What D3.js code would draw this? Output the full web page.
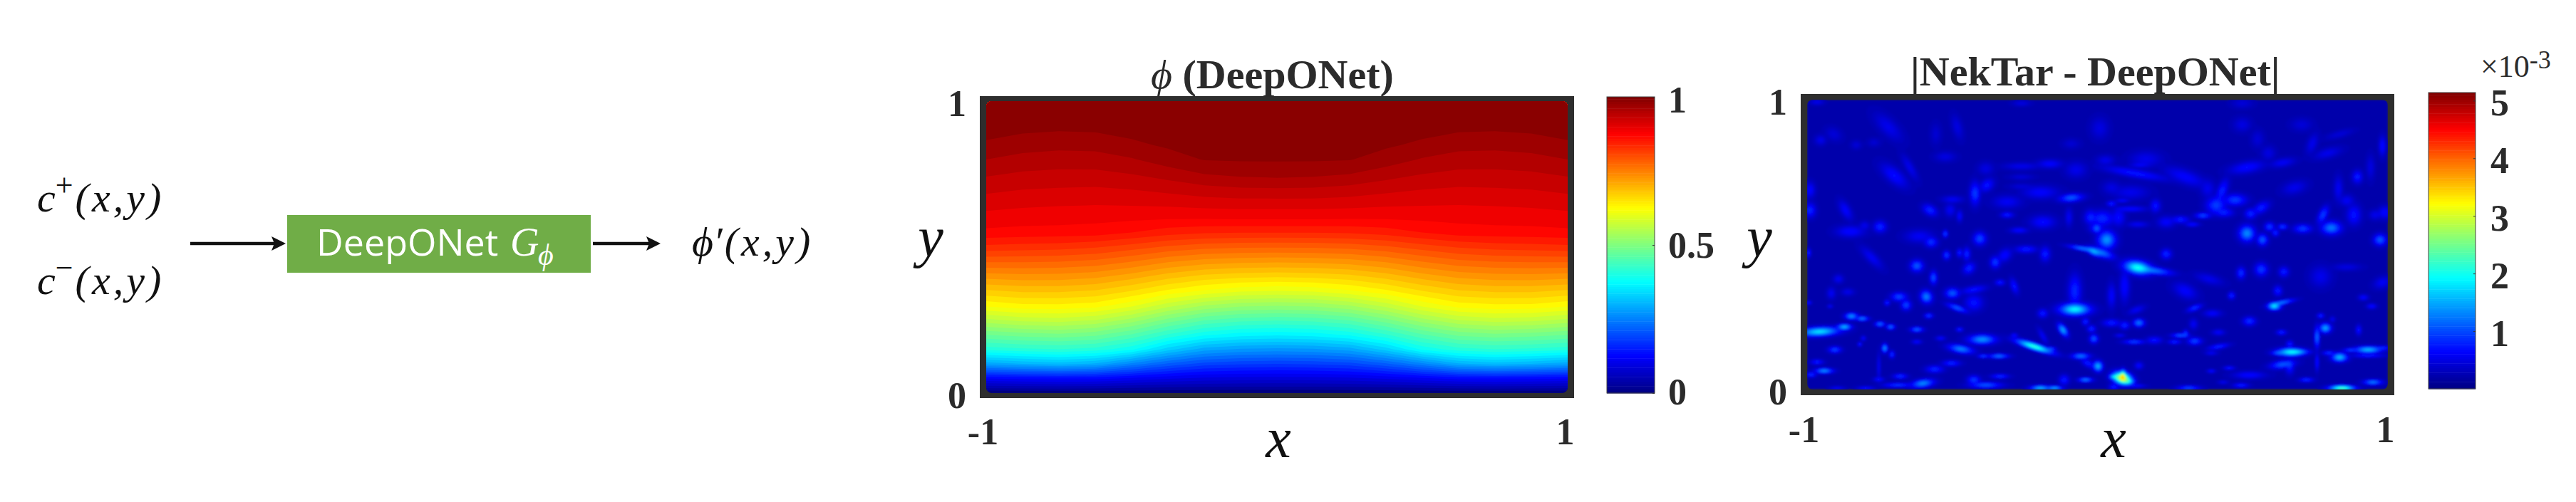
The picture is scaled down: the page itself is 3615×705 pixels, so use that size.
<!DOCTYPE html>
<html>
<head>
<meta charset="utf-8">
<script src="https://cdn.jsdelivr.net/npm/d3@7"></script>
<style>
  html, body { margin: 0; background: #fff; }
  svg { display: block; }
  .tick text, .lab { font-family: "Liberation Serif", serif; font-weight: bold; fill: #2b2b2b; }
  .math { font-family: "Liberation Serif", serif; font-style: italic; fill: #111; }
</style>
</head>
<body>
<script>
// phi (DeepONet): rows go y = 0 .. 1 in steps of 0.05,
// columns go x = -1 .. 0 in steps of 0.125 (right half mirrors the left)
const phiRows = [
  [0, 0, 0, 0, 0, 0, 0, 0, 0],
  [.120, .126, .130, .127, .115, .103, .094, .091, .090],
  [.287, .300, .309, .296, .254, .216, .191, .183, .180],
  [.407, .415, .420, .412, .385, .329, .290, .277, .273],
  [.481, .490, .495, .486, .458, .418, .385, .370, .365],
  [.554, .567, .570, .560, .532, .493, .462, .448, .443],
  [.625, .635, .636, .630, .605, .568, .540, .526, .522],
  [.677, .684, .684, .678, .660, .636, .617, .604, .600],
  [.729, .733, .732, .726, .710, .689, .674, .667, .664],
  [.782, .782, .780, .774, .760, .742, .730, .725, .723],
  [.834, .831, .828, .822, .810, .796, .787, .783, .782],
  [.875, .873, .872, .870, .860, .849, .843, .841, .841],
  [.892, .889, .888, .886, .885, .883, .883, .884, .884],
  [.909, .905, .903, .902, .903, .905, .909, .911, .911],
  [.926, .921, .919, .918, .921, .927, .934, .938, .939],
  [.943, .937, .935, .935, .940, .949, .960, .965, .967],
  [.960, .953, .950, .951, .958, .971, .981, .982, .982],
  [.977, .969, .966, .967, .976, .983, .986, .986, .987],
  [.986, .983, .981, .982, .986, .989, .990, .991, .991],
  [.993, .991, .990, .991, .993, .994, .995, .995, .996],
  [1, 1, 1, 1, 1, 1, 1, 1, 1]
]

// |NekTar - DeepONet| hot spots, read per quadrant of the plot:
// [column, row, value (x 10^-3), half width, half height, tilt in degrees]
// column runs 0..1260 and row 0..630 across a quadrant
const errTopLeft = [
  [360,130,.55,50,22,45],[75,185,.55,16,14],[130,160,.45,25,18,30],[385,335,.7,45,20,40],[450,300,.55,40,12,60],
  [225,205,.45,15,12],[300,195,.42,18,12],[30,395,.7,14,22],[30,480,.85,16,20],[180,480,.65,14,30,-30],
  [325,550,.85,18,16],[200,570,.7,40,16],[260,545,.55,15,12],[535,480,.85,22,14,30],[620,480,.6,15,18],
  [725,410,.95,14,32],[775,375,.75,22,16,-40],[770,305,.5,22,18],[650,130,.5,14,35,-15],[560,160,.42,15,30],
  [600,255,.5,30,14],[920,295,.55,50,10],[1040,285,.65,35,12],[1000,405,.65,50,18],[920,340,.45,35,8],
  [920,380,.45,35,8],[1130,428,1.1,34,11,-5],[860,445,.6,40,18],[860,500,.8,18,8],[1010,530,.7,35,18],
  [910,565,.7,25,8],[1210,510,.8,16,20],[1235,555,.8,20,14],[1150,310,.55,30,22],[1130,200,.42,25,14],
  [745,600,1,18,18,-40],[600,580,1,7,10],[540,615,.9,18,14],[490,590,.6,40,18],[660,505,.7,8,16],
  [630,435,.6,30,10],[1120,510,.6,10,25],[60,25,.55,20,8],[920,30,.5,25,8]
]
const errTopRight = [
  [20,135,.5,25,30],[215,265,.55,45,22],[45,270,.55,25,14],[190,290,.6,30,7],[170,325,.75,90,12,10],
  [380,340,.65,60,20,20],[640,300,.7,50,16,-10],[790,280,.6,35,12,-10],[620,120,.5,25,20],[685,180,.45,18,25],
  [915,200,.55,14,30,20],[1210,210,.7,10,28],[980,240,.55,40,14,-15],[1105,340,.8,14,18],[1160,300,.5,12,35],
  [840,385,.55,35,18,-15],[535,400,.8,14,35,20],[590,437,.95,32,16],[510,460,.95,28,24],[545,490,.8,25,12],
  [700,470,.8,25,14,-30],[655,495,.85,16,14],[475,390,.55,20,25],[1025,390,.6,12,35],[1060,440,.6,20,16],
  [1090,500,.75,20,28],[1220,490,.7,18,18],[960,500,.95,12,26,25],[995,555,1.25,28,18],[875,558,.95,25,12],
  [790,550,.95,14,8],[735,550,.95,14,12],[760,575,.85,10,10],[640,578,1.35,22,22],[705,605,1.1,15,16],
  [1200,605,1.1,18,16],[50,605,1.4,25,25],[30,515,.85,35,22],[100,510,.7,18,25],[8,558,.95,10,12],
  [70,453,.8,14,8],[115,440,.7,20,5],[150,475,.7,45,8],[255,462,.75,14,18],[455,503,1,22,8],
  [360,520,.8,25,10],[410,540,.75,20,6],[300,530,.65,25,16],[180,540,.6,30,8],[150,405,.55,50,20],
  [70,385,.5,25,18],[1180,500,.55,18,14],[1030,160,.45,40,10,-15],[870,120,.45,30,18],[620,30,.45,30,14],
  [730,240,.5,20,20]
]
const errBottomLeft = [
  [70,362,1.8,55,12,-3],[175,342,1.6,20,8],[205,297,1.4,18,9],[250,307,1.3,18,6],[325,330,1.2,14,7],
  [370,342,1.2,12,7],[480,353,1.15,18,7],[345,432,1.4,8,12],[375,458,.9,8,10],[135,438,1,18,9],
  [90,527,1.4,25,7],[60,490,.8,18,7],[35,543,.9,14,7],[520,215,1.3,16,18,-30],[630,200,1.1,20,14],
  [405,215,1,22,12],[435,250,1,14,14],[355,240,.85,8,8],[480,85,1.1,18,16],[550,135,1.05,10,18],
  [605,40,.95,10,12],[660,30,.8,8,12],[690,35,.85,10,18],[700,95,.85,18,14,-40],[810,70,.95,14,16],
  [850,40,.7,22,16,-40],[1020,35,.8,14,20],[1180,12,1.3,40,6,10],[1225,25,1.4,22,10,25],[940,15,.8,30,10],
  [290,50,.6,40,14,45],[1145,268,1.9,42,16],[1145,190,.85,18,45],[1095,355,1.5,10,20,-35],[1190,320,.85,10,10],
  [1215,350,.85,12,10],[1225,392,1.1,12,12],[975,425,2.2,52,9,18],[1045,435,1,14,6],[755,395,1.4,38,13],
  [665,435,1.3,35,11,10],[650,262,1.1,30,8,20],[530,295,.95,12,7],[825,465,1.25,28,6],[760,465,1,16,5],
  [1170,465,1.25,26,8],[1240,505,1.2,14,14],[1200,495,.8,20,10,30],[1190,565,1.3,20,6],[1000,600,1.6,28,7],
  [1060,600,1.5,22,6],[505,580,1.35,32,11,-8],[400,587,.95,40,6],[410,550,.9,20,7],[320,563,.75,15,6],
  [265,600,.75,25,5],[145,600,.65,22,5],[770,587,1.1,45,8],[720,565,.95,18,12],[830,550,.9,25,6],
  [1100,565,.8,14,14],[555,520,.85,25,10],[625,495,.85,25,8],[660,353,.85,10,6],[480,405,.7,14,6],
  [580,390,.7,14,6],[890,378,.75,10,6],[1010,285,.8,14,12],[25,240,.8,8,5],[115,255,.65,8,5],
  [150,140,.6,14,12],[120,200,.6,12,16],[190,195,.55,18,10],[720,240,.75,25,22],[720,185,.75,35,10,-10],
  [830,155,.8,14,8],[890,170,.75,10,22,-20],[25,30,.85,6,12],[320,510,.6,5,40],[240,415,.85,6,6],
  [255,390,.7,7,7],[1010,380,.6,8,25,-30]
]
const errBottomRight = [
  [180,92,2,38,18,10],[250,105,1.2,50,10,8],[300,35,.85,15,14],[30,30,1.2,35,12,20],[125,170,.7,14,45],
  [70,210,.65,12,35],[700,100,.95,18,18],[615,115,.9,12,16],[795,110,.8,14,14],[770,190,.8,12,14],
  [575,210,.85,10,10],[380,190,.65,35,20,25],[480,140,.55,40,14,15],[755,255,1.8,18,10],[785,240,1.3,35,6,-12],
  [420,262,.9,22,8,-20],[495,285,.65,25,10],[650,318,.9,18,12],[185,325,1.25,16,11],[125,335,.85,14,11],
  [70,325,.8,25,10],[175,270,.6,25,10,-20],[415,330,.6,12,15],[360,378,1.1,25,6],[382,370,.9,8,10],
  [165,405,1,30,6],[250,398,.75,22,10],[335,405,.85,18,6],[420,402,1,20,10],[105,378,.65,15,5],
  [520,365,.65,18,8],[520,425,.85,30,7,-10],[490,452,.6,18,6],[15,510,1.2,12,14],[115,558,3.1,26,16,15],
  [118,548,2.4,8,16],[80,552,1.6,14,6],[140,572,1.6,18,9],[175,590,.8,25,4],[80,595,.8,14,10],
  [185,505,.7,12,10],[395,600,1,32,7],[615,588,.85,22,6],[565,515,.8,16,5],[490,528,.75,12,5],
  [650,545,.7,45,10],[540,575,.6,15,5],[825,448,1.9,38,11],[770,452,1.1,20,5],[860,447,1.2,30,6],
  [970,347,1.5,16,13],[950,295,.85,10,7],[935,385,1.2,7,30],[935,490,.8,5,25],[785,365,.85,14,7],
  [820,415,.8,10,10],[1030,470,1.6,22,12],[1150,438,1.6,38,9],[1075,440,1,20,5],[1215,430,.85,25,5],
  [1150,463,.85,45,5],[985,452,.9,18,6],[790,500,1.1,35,11,-8],[820,510,.8,12,20],[890,565,.9,20,6],
  [1170,575,1.3,26,7],[1040,600,2.4,35,7],[1110,355,.75,8,14],[1000,310,.6,8,8],[1165,255,.75,14,7],
  [1130,218,.7,14,8],[950,130,.55,30,30],[1210,155,.6,25,16,-20],[1060,90,.5,40,10]
]
const errFloor = .22

const xTicks = [-1, 1]
const yTicks = [0, 1]
const phiBarTicks = [0, .5, 1]
const errBarTicks = [1, 2, 3, 4, 5]
const phiBarMax = 1
const errBarMax = 5.14

const width = 3615, height = 705

const jet = d3.scaleLinear()
  .domain([0, .125, .375, .625, .875, 1])
  .range(['#000080', '#0000ff', '#00ffff', '#ffff00', '#ff0000', '#800000'])
  .clamp(true)

const svg = d3.select('body').append('svg')
  .attr('width', width)
  .attr('height', height)
  .attr('viewBox', `0 0 ${width} ${height}`)

const defs = svg.append('defs')
defs.append('filter').attr('id', 'soft')
  .attr('x', 0).attr('y', 0).attr('width', 1).attr('height', 1)
  .append('feGaussianBlur').attr('stdDeviation', 1.6).attr('edgeMode', 'duplicate')

function panel(opt) {
  const x = d3.scaleLinear().domain([-1, 1]).range(opt.xRange)
  const y = d3.scaleLinear().domain([0, 1]).range(opt.yRange)
  const pad = opt.frame

  // dark frame first, the field sits on top with rounded corners
  svg.append('rect')
    .attr('x', opt.xRange[0] - pad[0])
    .attr('y', opt.yRange[1] - pad[1])
    .attr('width', opt.xRange[1] - opt.xRange[0] + pad[0] * 2)
    .attr('height', opt.yRange[0] - opt.yRange[1] + pad[1] * 2)
    .attr('fill', '#2e2e2e')

  defs.append('clipPath').attr('id', opt.id)
    .append('rect')
    .attr('x', opt.xRange[0])
    .attr('y', opt.yRange[1])
    .attr('width', opt.xRange[1] - opt.xRange[0])
    .attr('height', opt.yRange[0] - opt.yRange[1])
    .attr('rx', 8)

  const clip = svg.append('g').attr('clip-path', `url(#${opt.id})`)
  const g = clip.append('g')
  if (opt.soft) g.attr('filter', 'url(#soft)')

  g.append('rect')
    .attr('x', opt.xRange[0])
    .attr('y', opt.yRange[1])
    .attr('width', opt.xRange[1] - opt.xRange[0])
    .attr('height', opt.yRange[0] - opt.yRange[1])
    .attr('fill', jet(opt.floor / opt.max))

  const gridX = d3.scaleLinear().domain([.5, opt.nx - .5]).range([-1, 1])
  const gridY = d3.scaleLinear().domain([.5, opt.ny - .5]).range([0, 1])
  const path = d3.geoPath(d3.geoTransform({
    point(a, b) { this.stream.point(x(gridX(a)), y(gridY(b))) }
  }))

  const contours = d3.contours()
    .size([opt.nx, opt.ny])
    .thresholds(opt.thresholds)(opt.values)

  g.selectAll('path')
    .data(contours)
    .join('path')
    .attr('d', path)
    .attr('fill', d => jet((d.value + opt.bandStep / 2) / opt.max))

  // axes
  const xAxis = svg.append('g')
    .attr('transform', `translate(0,${opt.yRange[0]})`)
    .call(d3.axisBottom(x).tickValues(xTicks).tickSize(0).tickFormat(d => String(d)))
  xAxis.select('.domain').remove()
  xAxis.selectAll('text')
    .attr('y', opt.xLabelY - opt.yRange[0])
    .attr('dy', 0)
    .attr('dx', d => d < 0 ? -5 : -4)
    .style('font-size', '52px')

  const yAxis = svg.append('g')
    .attr('transform', `translate(${opt.xRange[0]},0)`)
    .call(d3.axisLeft(y).tickValues(yTicks).tickSize(0).tickFormat(d => String(d)))
  yAxis.select('.domain').remove()
  yAxis.selectAll('text')
    .attr('x', -28)
    .attr('dy', 20)
    .style('font-size', '52px')

  // colour bar
  const bar = d3.scaleLinear().domain([0, opt.barMax]).range(opt.barY)
  const bands = d3.range(128).map(i => i / 128 * opt.barMax)
  const barG = svg.append('g')
  barG.selectAll('rect')
    .data(bands)
    .join('rect')
    .attr('x', opt.barX[0])
    .attr('width', opt.barX[1] - opt.barX[0])
    .attr('y', d => bar(d + opt.barMax / 128))
    .attr('height', d => bar(d) - bar(d + opt.barMax / 128) + .5)
    .attr('fill', d => jet((d + opt.barMax / 256) / opt.barMax))
  barG.append('rect')
    .attr('x', opt.barX[0]).attr('y', opt.barY[1])
    .attr('width', opt.barX[1] - opt.barX[0])
    .attr('height', opt.barY[0] - opt.barY[1])
    .attr('fill', 'none')
    .attr('stroke', '#444')
    .attr('stroke-width', 1)

  const barAxis = svg.append('g')
    .attr('transform', `translate(${opt.barX[1]},0)`)
    .call(d3.axisRight(bar).tickValues(opt.barTicks).tickSize(-3).tickPadding(opt.barPad).tickFormat(d => String(d)))
  barAxis.select('.domain').remove()
  barAxis.selectAll('line').attr('stroke', '#333')
  barAxis.selectAll('text')
    .attr('dy', opt.barDy)
    .style('font-size', '52px')

  // title and axis letters
  svg.append('text').attr('class', 'lab')
    .attr('x', opt.titleX).attr('y', opt.titleY)
    .style('font-size', '58px')
    .html(opt.title)
  svg.append('text').attr('class', 'math')
    .attr('x', opt.xLetter[0]).attr('y', opt.xLetter[1])
    .attr('text-anchor', 'middle')
    .style('font-size', '80px')
    .text('x')
  svg.append('text').attr('class', 'math')
    .attr('x', opt.yLetter[0]).attr('y', opt.yLetter[1])
    .attr('text-anchor', 'middle')
    .style('font-size', '80px')
    .text('y')
}

// ---- phi panel
const phiFull = phiRows.flatMap(r => r.concat(r.slice(0, -1).reverse()))

panel({
  id: 'clipPhi',
  xRange: [1384, 2200], yRange: [552, 142], frame: [9, 7],
  values: phiFull, nx: 17, ny: 21,
  thresholds: d3.range(.02, 1, .02), bandStep: .02,
  floor: 0, max: phiBarMax,
  xLabelY: 624,
  barX: [2255, 2322], barY: [552, 136], barMax: phiBarMax, barTicks: phiBarTicks, barPad: 19,
  barDy: d => d === 1 ? 21 : d === 0 ? 15 : 17,
  title: '<tspan font-style="italic" font-weight="normal">ϕ</tspan> (DeepONet)', titleX: 1615, titleY: 124,
  xLetter: [1794, 642], yLetter: [1306, 360]
})

// ---- error panel, hot spots spread into a value grid and contoured
const readCol = [d3.scaleLinear().domain([0, 1260]).range([-1.015, .016]), d3.scaleLinear().domain([0, 1260]).range([-.009, 1.022])]
const readRow = [d3.scaleLinear().domain([0, 630]).range([1.012, .496]), d3.scaleLinear().domain([0, 630]).range([.496, -.020])]
const perCol = 1.031 / 1260, perRow = .516 / 630

const hotSpots = [
  [errTopLeft, 0, 0], [errTopRight, 1, 0], [errBottomLeft, 0, 1], [errBottomRight, 1, 1]
].flatMap(([list, c, r]) => list.map(h => ({
  x: readCol[c](h[0]), y: readRow[r](h[1]), value: h[2],
  sx: h[3] * perCol, sy: h[4] * perRow, tilt: (h[5] || 0) * Math.PI / 180
})))

const errNx = 408, errNy = 204
const errSquares = new Float64Array(errNx * errNy)
const cellX = d3.scaleLinear().domain([.5, errNx - .5]).range([-1, 1])
const cellY = d3.scaleLinear().domain([.5, errNy - .5]).range([0, 1])

// overlapping spots combine as root of squares, so crowded areas lift a little without blowing out
hotSpots.forEach(h => {
  const reach = Math.max(h.sx, h.sy) * 3.2
  const i0 = Math.max(0, Math.floor(cellX.invert(h.x - reach)))
  const i1 = Math.min(errNx - 1, Math.ceil(cellX.invert(h.x + reach)))
  const j0 = Math.max(0, Math.floor(cellY.invert(h.y - reach)))
  const j1 = Math.min(errNy - 1, Math.ceil(cellY.invert(h.y + reach)))
  const cos = Math.cos(h.tilt), sin = Math.sin(h.tilt)
  for (let j = j0; j <= j1; j++) {
    for (let i = i0; i <= i1; i++) {
      const dx = cellX(i + .5) - h.x, dy = h.y - cellY(j + .5)
      const u = (dx * cos + dy * sin) / h.sx
      const v = (-dx * sin + dy * cos) / h.sy
      const a = (h.value - errFloor) * Math.exp(-.5 * (u * u + v * v))
      errSquares[j * errNx + i] += a * a
    }
  }
})
const errField = Array.from(errSquares, d => errFloor + Math.sqrt(d))

panel({
  id: 'clipErr',
  xRange: [2536, 3351], yRange: [547, 140], frame: [9, 8],
  values: errField, nx: errNx, ny: errNy,
  thresholds: d3.range(.24, errBarMax, .05), bandStep: .05,
  floor: errFloor, max: errBarMax, soft: true,
  xLabelY: 621,
  barX: [3408, 3474], barY: [546, 130], barMax: errBarMax, barTicks: errBarTicks, barPad: 21,
  barDy: 20,
  title: '|NekTar - DeepONet|', titleX: 2681, titleY: 120,
  xLetter: [2966, 642], yLetter: [2469, 360]
})

// colour bar exponent
svg.append('text').attr('class', 'lab')
  .attr('x', 3481).attr('y', 108)
  .style('font-size', '44px').style('font-weight', 'normal')
  .html('×10<tspan dy="-12" font-size="36">-3</tspan>')

// ---- schematic on the left
const mathFont = 58
function formula(x, y, base, sup) {
  const t = svg.append('text').attr('class', 'math')
    .attr('x', x).attr('y', y)
    .style('font-size', mathFont + 'px')
  t.append('tspan').text(base)
  if (sup) t.append('tspan').attr('dy', -22).style('font-size', '44px').style('font-style', 'normal').text(sup)
  t.append('tspan').attr('dy', sup ? 22 : 0).attr('dx', 3).style('letter-spacing', '4px').text('(x,y)')
}
formula(52, 297, 'c', '+')
formula(52, 413, 'c', '−')
formula(971, 359, 'ϕ′', null)

svg.append('rect')
  .attr('x', 403).attr('y', 302)
  .attr('width', 426).attr('height', 81)
  .attr('fill', '#70ad47')
svg.append('text')
  .attr('x', 444).attr('y', 359)
  .attr('fill', '#fff')
  .style('font-family', '"Open Sans", sans-serif')
  .style('font-size', '52px')
  .text('DeepONet')
svg.append('text')
  .attr('x', 716).attr('y', 359)
  .attr('fill', '#fff')
  .style('font-family', '"Liberation Serif", serif')
  .style('font-style', 'italic')
  .style('font-size', '56px')
  .text('G')
svg.append('text')
  .attr('x', 755).attr('y', 372)
  .attr('fill', '#fff')
  .style('font-family', '"Liberation Serif", serif')
  .style('font-style', 'italic')
  .style('font-size', '42px')
  .text('ϕ')

function arrow(x0, x1, y) {
  svg.append('line')
    .attr('x1', x0).attr('x2', x1 - 14)
    .attr('y1', y).attr('y2', y)
    .attr('stroke', '#111').attr('stroke-width', 4.5)
  svg.append('path')
    .attr('d', d3.line()([[x1, y], [x1 - 20, y - 10], [x1 - 16, y], [x1 - 20, y + 10]]) + 'Z')
    .attr('fill', '#111')
}
arrow(267, 401, 342)
arrow(832, 927, 342)
</script>
</body>
</html>
